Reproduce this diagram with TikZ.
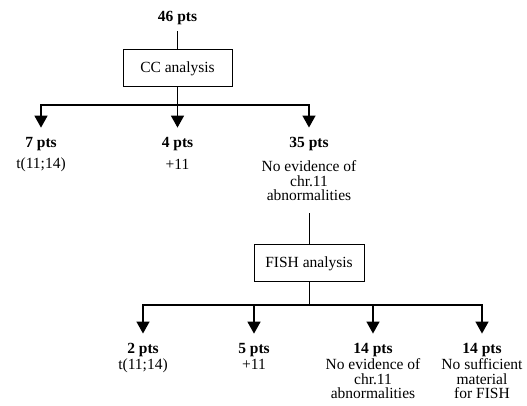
\documentclass[tikz,border=0pt]{standalone}
\usepackage{fontspec}
\setmainfont{Liberation Serif}
\usetikzlibrary{arrows.meta}
\begin{document}
\begin{tikzpicture}[x=1pt,y=1pt,
  lbl/.style={font=\fontsize{15.5}{14.6}\selectfont, align=center, inner sep=0pt},
  pts/.style={lbl, font=\fontsize{15.5}{14.6}\selectfont\bfseries, anchor=base},
  box/.style={draw, line width=1pt, inner sep=0pt, minimum height=37pt, font=\fontsize{15.5}{14.6}\selectfont},
  stem/.style={line width=0.8pt},
  arr/.style={line width=1.5pt, -{Triangle[width=13pt,length=12pt]}, shorten >=10pt}]
\useasboundingbox (0,0) rectangle (527,406);
% top level
\node[pts] (p46) at (177.5,384) {46 pts};
\node[box, minimum width=109pt] (cc) at (177.5,337.5) {CC analysis};
\coordinate (j1) at (177.5,301);
\node[pts] (p7) at (41,258) {7 pts};
\node[lbl, anchor=base] (d7) at (41,237) {t(11;14)};
\node[pts] (p4) at (177.5,258) {4 pts};
\node[lbl, anchor=base] (d4) at (177.5,236) {+11};
\node[pts] (p35) at (309,258) {35 pts};
\node[lbl, anchor=north] (d35) at (309,245.5) {No evidence of\\chr.11\\abnormalities};
\draw[stem, shorten <=6pt] (p46.south) -- (cc.north);
\draw[stem] (cc.south) -- (j1);
\draw[arr] (j1) -| (p7.north);
\draw[arr] (j1) -- (p4.north);
\draw[arr] (j1) -| (p35.north);
% second level
\node[box, minimum width=110pt] (fish) at (309,142.5) {FISH analysis};
\coordinate (j2) at (309,101);
\node[pts] (q2) at (143,52) {2 pts};
\node[lbl, anchor=base] (e2) at (143,36) {t(11;14)};
\node[pts] (q5) at (254,52) {5 pts};
\node[lbl, anchor=base] (e5) at (254,36) {+11};
\node[pts] (q14a) at (373,52) {14 pts};
\node[lbl, anchor=north] (e14a) at (373,47.5) {No evidence of\\chr.11\\abnormalities};
\node[pts] (q14b) at (482,52) {14 pts};
\node[lbl, anchor=north] (e14b) at (482,47.5) {No sufficient\\material\\for FISH};
\draw[stem, shorten <=12pt] (d35.south) -- (fish.north);
\draw[stem] (fish.south) -- (j2);
\draw[arr] (j2) -| (q2.north);
\draw[arr] (j2) -| (q5.north);
\draw[arr] (j2) -| (q14a.north);
\draw[arr] (j2) -| (q14b.north);
\end{tikzpicture}
\end{document}
